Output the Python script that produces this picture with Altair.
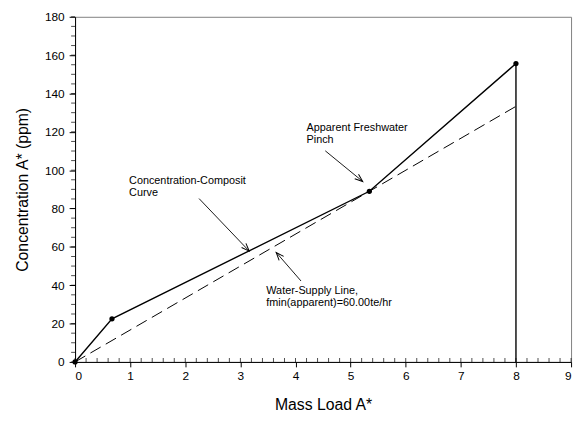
import math
import altair as alt
import pandas as pd

# ---- data ----
comp_x = [0.0, 0.67, 5.34, 8.0]
comp_y = [0.0, 22.5, 89.0, 155.6]
supply_x = [0.0, 8.0]
supply_y = [0.0, 133.3]
drop_x = [8.0]
drop_y = [155.6]

x_ticks = list(range(0, 10))
y_ticks = list(range(0, 181, 20))
x_minor = [round(i * 0.2, 1) for i in range(46)]
y_minor = list(range(0, 181, 5))

note_text = [
    "Concentration-Composit\nCurve",
    "Apparent Freshwater\nPinch",
    "Water-Supply Line,\nfmin(apparent)=60.00te/hr",
]
note_x = [0.98, 4.20, 3.47]
note_y = [97.2, 125.0, 40.1]
tail_x = [2.25, 4.54, 4.10]
tail_y = [85.2, 110.1, 42.2]
tip_x = [3.16, 5.22, 3.65]
tip_y = [57.8, 94.1, 57.1]

W, H = 503, 350
XMAX, YMAX = 9, 180
FONT = "Liberation Sans"

comp = pd.DataFrame({"x": comp_x, "y": comp_y, "o": list(range(len(comp_x)))})
supply = pd.DataFrame({"x": supply_x, "y": supply_y})
drop = pd.DataFrame({"x": drop_x, "y": [0.0], "y2": drop_y})
xm = pd.DataFrame({"x": x_minor, "y": [0.0] * len(x_minor)})
ym = pd.DataFrame({"x": [0.0] * len(y_minor), "y": y_minor})
notes = pd.DataFrame({"x": note_x, "y": note_y, "t": note_text})
arrows = pd.DataFrame({"x": tail_x, "y": tail_y, "x2": tip_x, "y2": tip_y})
heads = pd.DataFrame({"x": tip_x, "y": tip_y})
heads["ang"] = [
    (math.degrees(math.atan2((tx - sx) * W / XMAX, (ty - sy) * H / YMAX)) + 360) % 360
    for sx, sy, tx, ty in zip(tail_x, tail_y, tip_x, tip_y)
]

x_enc = alt.X(
    "x:Q",
    scale=alt.Scale(domain=[0, XMAX], nice=False, zero=False),
    axis=alt.Axis(values=x_ticks, title="Mass Load A*", tickSize=5, labelPadding=4,
                  titlePadding=15, grid=False, format="d"),
)
y_enc = alt.Y(
    "y:Q",
    scale=alt.Scale(domain=[0, YMAX], nice=False, zero=False),
    axis=alt.Axis(values=y_ticks, title="Concentration A* (ppm)", tickSize=6, labelPadding=5,
                  titlePadding=14, grid=False, format="d"),
)

supply_line = alt.Chart(supply).mark_line(color="black", strokeWidth=1, strokeDash=[12, 6]).encode(
    x=x_enc, y=y_enc)
comp_line = alt.Chart(comp).mark_line(color="black", strokeWidth=1.4).encode(
    x=x_enc, y=y_enc, order="o:Q")
drop_rule = alt.Chart(drop).mark_rule(color="black", strokeWidth=1.4).encode(
    x=x_enc, y=y_enc, y2="y2:Q")
pts = alt.Chart(comp).mark_circle(color="black", size=28, opacity=1).encode(x=x_enc, y=y_enc)
xminor = alt.Chart(xm).mark_tick(orient="vertical", size=4, thickness=1, color="black",
                                 yOffset=-2).encode(x=x_enc, y=y_enc)
yminor = alt.Chart(ym).mark_tick(orient="horizontal", size=4, thickness=1, color="black",
                                 xOffset=-2).encode(x=x_enc, y=y_enc)
arrow_lines = alt.Chart(arrows).mark_rule(color="black", strokeWidth=0.9).encode(
    x=x_enc, y=y_enc, x2="x2:Q", y2="y2:Q")
arrow_heads = alt.Chart(heads).mark_point(
    shape="M-0.38,1L0,0L0.38,1", filled=False, color="black", strokeWidth=1, size=256, opacity=1
).encode(x=x_enc, y=y_enc, angle=alt.Angle("ang:Q", scale=None))
labels = alt.Chart(notes).mark_text(
    align="left", baseline="top", fontSize=11, lineHeight=12, lineBreak="\n", font=FONT,
    color="black"
).encode(x=x_enc, y=y_enc, text="t:N")

chart = alt.layer(
    supply_line, comp_line, drop_rule, pts, xminor, yminor, arrow_lines, arrow_heads, labels
).properties(
    width=W, height=H,
    autosize=alt.AutoSizeParams(type="none"),
    padding={"left": 68, "top": 6, "right": 5, "bottom": 58},
).configure_view(
    stroke="#808080", strokeWidth=1, fill="white"
).configure_axis(
    domainColor="black", tickColor="black", labelColor="black", titleColor="black",
    labelFont=FONT, titleFont=FONT, labelFontSize=12, titleFontSize=16,
    titleFontWeight="normal", domainWidth=1, tickWidth=1,
)

chart.save("out.html", embed_options={"renderer": "svg", "actions": False})
